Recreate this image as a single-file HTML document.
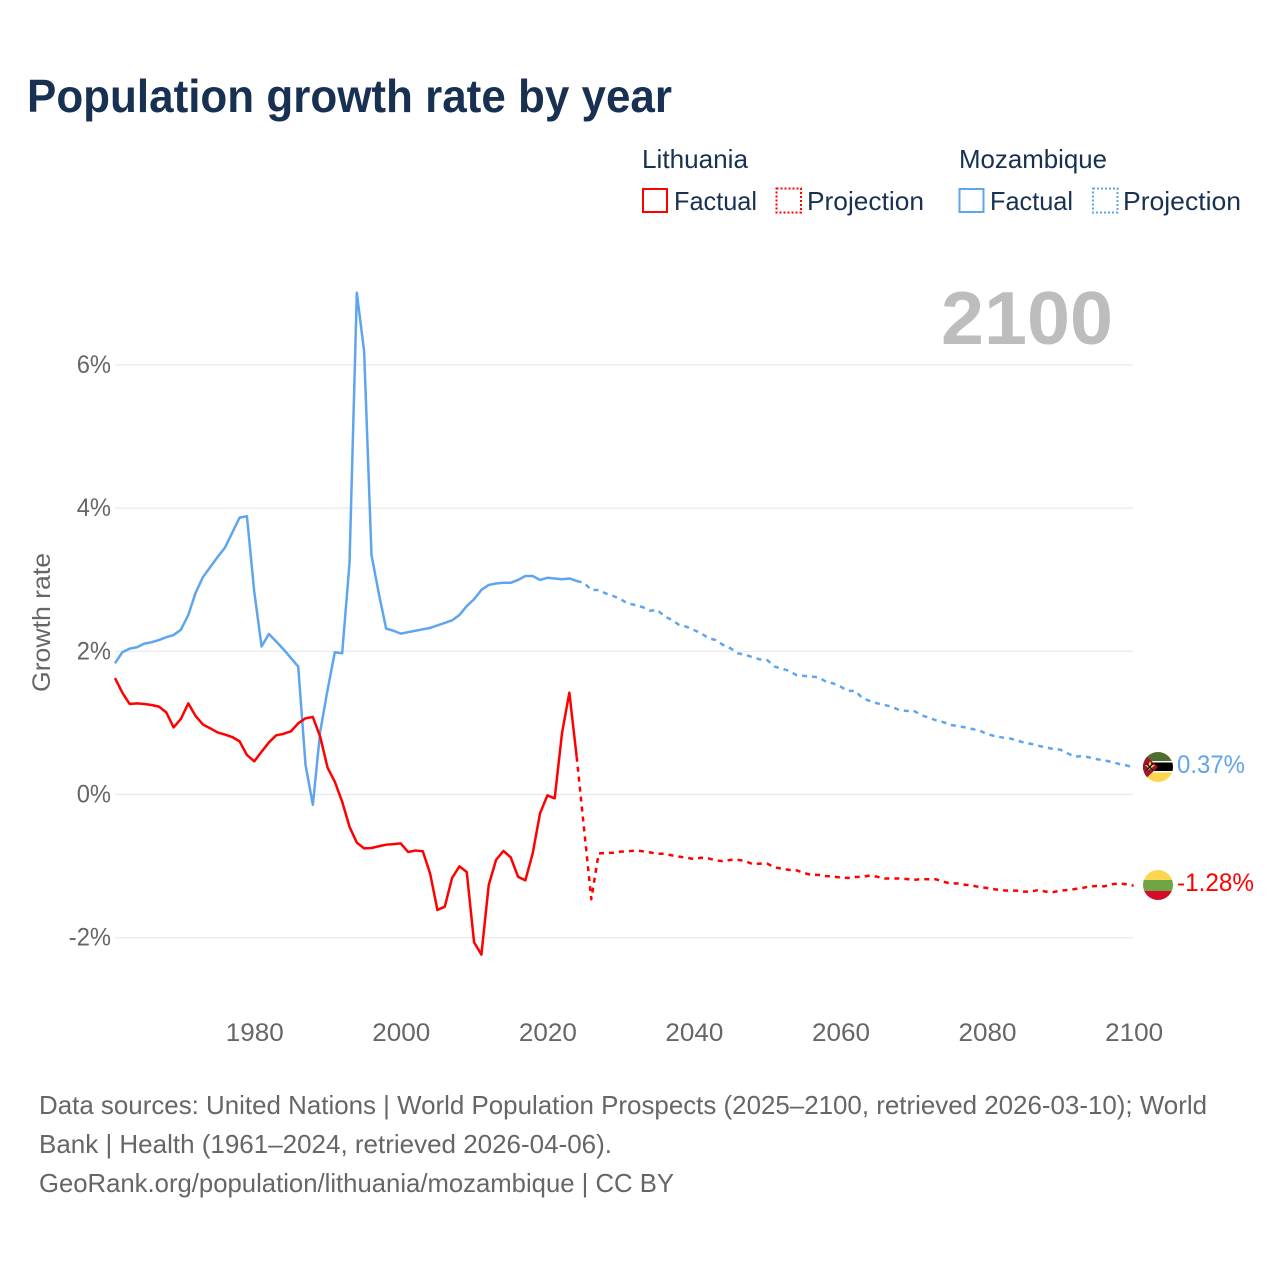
<!DOCTYPE html>
<html lang="en">
<head>
<meta charset="utf-8">
<title>Population growth rate by year</title>
<style>
html,body{margin:0;padding:0;background:#fff;}
svg{display:block;font-family:"Liberation Sans",sans-serif;}
</style>
</head>
<body>
<svg id="chart" width="1280" height="1280" viewBox="0 0 1280 1280" xmlns="http://www.w3.org/2000/svg">
  <defs>
    <clipPath id="flag-clip-moz"><circle cx="1158" cy="767" r="15"/></clipPath>
    <clipPath id="flag-clip-ltu"><circle cx="1158" cy="885" r="15"/></clipPath>
  </defs>
  <rect x="0" y="0" width="1280" height="1280" fill="#ffffff"/>
  <text x="27" y="112" font-size="46" font-weight="700" fill="#183153" textLength="645" lengthAdjust="spacingAndGlyphs">Population growth rate by year</text>

  <g font-size="26" fill="#183153">
    <text x="642" y="168" textLength="106" lengthAdjust="spacingAndGlyphs">Lithuania</text>
    <text x="959" y="168" textLength="148" lengthAdjust="spacingAndGlyphs">Mozambique</text>
    <rect x="643" y="189" width="24" height="23" fill="none" stroke="#ff0000" stroke-width="2"/>
    <text x="674" y="210" textLength="83" lengthAdjust="spacingAndGlyphs">Factual</text>
    <rect x="776.5" y="188.5" width="24.5" height="24" fill="none" stroke="#ff0000" stroke-width="2" stroke-dasharray="2 2"/>
    <text x="807" y="210" textLength="117" lengthAdjust="spacingAndGlyphs">Projection</text>
    <rect x="959.5" y="189" width="24" height="23" fill="none" stroke="#5fa5ee" stroke-width="2"/>
    <text x="990" y="210" textLength="83" lengthAdjust="spacingAndGlyphs">Factual</text>
    <rect x="1093" y="188.5" width="24.5" height="24" fill="none" stroke="#5fa5ee" stroke-width="2" stroke-dasharray="2 2"/>
    <text x="1123" y="210" textLength="118" lengthAdjust="spacingAndGlyphs">Projection</text>
  </g>

  <g id="grid"></g>
  <text x="941" y="344" font-size="75" font-weight="700" fill="#bdbdbd" textLength="172" lengthAdjust="spacingAndGlyphs">2100</text>
  <g id="y-ticks" font-size="25" fill="#666666" text-anchor="end"></g>
  <g id="x-ticks" font-size="25" fill="#666666" text-anchor="middle"></g>
  <text transform="translate(50,692) rotate(-90)" font-size="25" fill="#666666" textLength="139" lengthAdjust="spacingAndGlyphs">Growth rate</text>
  <g id="series" fill="none" stroke-width="2.5" stroke-linejoin="round"></g>

  <g clip-path="url(#flag-clip-moz)">
    <rect x="1143" y="752" width="30" height="10" fill="#4f6f2e"/>
    <rect x="1143" y="761" width="30" height="2" fill="#ffffff"/>
    <rect x="1143" y="762.5" width="30" height="8.5" fill="#000000"/>
    <rect x="1143" y="771" width="30" height="2" fill="#ffffff"/>
    <rect x="1143" y="772.5" width="30" height="10" fill="#fdd64f"/>
    <polygon points="1142,752 1158,767 1142,782" fill="#a3132e"/>
    <polygon points="1150,761 1151.6,765 1155,765 1152,767.5 1153,771 1150,769 1147,771 1148,767.5 1145,765 1148.4,765" fill="#fdd64f"/>
    <path d="M1146.5,763.5 L1153,770.5 M1153,763.5 L1146.5,770.5" stroke="#111111" stroke-width="1.3" fill="none"/>
  </g>
  <g clip-path="url(#flag-clip-ltu)">
    <rect x="1143" y="870" width="30" height="10" fill="#fdd64f"/>
    <rect x="1143" y="880" width="30" height="11" fill="#6fa544"/>
    <rect x="1143" y="891" width="30" height="10" fill="#d40b2a"/>
  </g>
  <text x="1177" y="773" font-size="25" fill="#5fa5ee" textLength="68" lengthAdjust="spacingAndGlyphs">0.37%</text>
  <text x="1177" y="891" font-size="25" fill="#ff0000" textLength="77" lengthAdjust="spacingAndGlyphs">-1.28%</text>

  <g font-size="26" fill="#666666">
    <text x="39" y="1114" textLength="1168" lengthAdjust="spacingAndGlyphs">Data sources: United Nations | World Population Prospects (2025–2100, retrieved 2026-03-10); World</text>
    <text x="39" y="1153" textLength="573" lengthAdjust="spacingAndGlyphs">Bank | Health (1961–2024, retrieved 2026-04-06).</text>
    <text x="39" y="1192" textLength="635" lengthAdjust="spacingAndGlyphs">GeoRank.org/population/lithuania/mozambique | CC BY</text>
  </g>
</svg>
<script>
const yTickValues = [6, 4, 2, 0, -2];
const yTickLabels = ["6%", "4%", "2%", "0%", "-2%"];
const xTickValues = [1980, 2000, 2020, 2040, 2060, 2080, 2100];
const xTickLabels = ["1980", "2000", "2020", "2040", "2060", "2080", "2100"];
const factualStartYear = 1961;
const projectionStartYear = 2024;
const lithuaniaFactual = [
  1.62, 1.415, 1.257, 1.266, 1.257, 1.243, 1.22, 1.14, 0.93, 1.05,
  1.266, 1.09, 0.97, 0.917, 0.86, 0.83, 0.796, 0.735, 0.545, 0.456,
  0.59, 0.72, 0.82, 0.84, 0.875, 0.987, 1.057, 1.075, 0.80, 0.37,
  0.17, -0.107, -0.457, -0.68, -0.76, -0.754, -0.73, -0.708, -0.70, -0.69,
  -0.81, -0.79, -0.80, -1.11, -1.62, -1.574, -1.173, -1.01, -1.09, -2.07,
  -2.244, -1.271, -0.92, -0.796, -0.885, -1.155, -1.206, -0.83, -0.27, -0.02,
  -0.06, 0.85, 1.415, 0.52
];
const lithuaniaProjection = [
  0.52, -0.48, -1.47, -0.83, -0.825, -0.82, -0.805, -0.80, -0.79, -0.80,
  -0.815, -0.835, -0.835, -0.857, -0.875, -0.89, -0.908, -0.89, -0.90, -0.926,
  -0.94, -0.92, -0.92, -0.935, -0.98, -0.973, -0.973, -1.024, -1.043, -1.06,
  -1.066, -1.103, -1.13, -1.13, -1.145, -1.155, -1.165, -1.173, -1.16, -1.155,
  -1.14, -1.155, -1.18, -1.18, -1.18, -1.187, -1.20, -1.187, -1.19, -1.19,
  -1.225, -1.248, -1.25, -1.267, -1.28, -1.30, -1.313, -1.33, -1.345, -1.35,
  -1.35, -1.364, -1.364, -1.34, -1.364, -1.37, -1.35, -1.34, -1.327, -1.313,
  -1.29, -1.285, -1.29, -1.26, -1.25, -1.26, -1.28
];
const mozambiqueFactual = [
  1.825, 1.98, 2.03, 2.05, 2.10, 2.12, 2.15, 2.19, 2.22, 2.295,
  2.50, 2.81, 3.03, 3.17, 3.31, 3.44, 3.65, 3.86, 3.88, 2.83,
  2.06, 2.235, 2.13, 2.02, 1.90, 1.78, 0.405, -0.15, 0.87, 1.45,
  1.98, 1.965, 3.22, 7.0, 6.18, 3.34, 2.80, 2.31, 2.28, 2.24,
  2.26, 2.28, 2.30, 2.32, 2.355, 2.39, 2.425, 2.50, 2.625, 2.72,
  2.85, 2.92, 2.94, 2.95, 2.95, 2.99, 3.045, 3.045, 2.99, 3.02,
  3.01, 3.0, 3.01, 2.975
];
const mozambiqueProjection = [
  2.975, 2.95, 2.85, 2.85, 2.80, 2.765, 2.72, 2.66, 2.64, 2.61,
  2.56, 2.57, 2.48, 2.43, 2.36, 2.335, 2.29, 2.245, 2.175, 2.15,
  2.08, 2.035, 1.965, 1.945, 1.91, 1.88, 1.87, 1.78, 1.75, 1.72,
  1.66, 1.65, 1.64, 1.63, 1.57, 1.545, 1.50, 1.44, 1.44, 1.34,
  1.30, 1.267, 1.243, 1.22, 1.173, 1.16, 1.163, 1.10, 1.07, 1.03,
  1.005, 0.964, 0.95, 0.93, 0.908, 0.885, 0.838, 0.81, 0.79, 0.78,
  0.75, 0.72, 0.70, 0.675, 0.65, 0.63, 0.62, 0.567, 0.52, 0.53,
  0.51, 0.485, 0.47, 0.447, 0.42, 0.40, 0.37
];

const SVG_NS = "http://www.w3.org/2000/svg";
function xScale(year) { return 115 + (year - 1961) * (1133.6 - 115) / (2100 - 1961); }
function yScale(value) { return 794 - value * 71.6; }
function linePath(startYear, values) {
  return values.map(function (v, i) {
    return (i ? "L" : "M") + xScale(startYear + i).toFixed(2) + "," + yScale(v).toFixed(2);
  }).join(" ");
}

const gridGroup = document.getElementById("grid");
const yTickGroup = document.getElementById("y-ticks");
yTickValues.forEach(function (v, i) {
  const line = document.createElementNS(SVG_NS, "line");
  
  
  line.setAttribute("x1", 115);
  line.setAttribute("x2", 1133);
  line.setAttribute("y1", yScale(v) + 0.5);
  line.setAttribute("y2", yScale(v) + 0.5);
  line.setAttribute("stroke", "#e8e8e8");
  line.setAttribute("stroke-width", "1.2");
  gridGroup.appendChild(line);
  const label = document.createElementNS(SVG_NS, "text");
  
  
  label.setAttribute("x", 111);
  label.setAttribute("y", yScale(v) + 8.5);
  label.textContent = yTickLabels[i];
  yTickGroup.appendChild(label);
  label.setAttribute("textLength", (label.getComputedTextLength() * 0.95).toFixed(1));
  label.setAttribute("lengthAdjust", "spacingAndGlyphs");
});

const xTickGroup = document.getElementById("x-ticks");
xTickValues.forEach(function (v, i) {
  const label = document.createElementNS(SVG_NS, "text");
  
  
  label.setAttribute("x", xScale(v) + 0.5);
  label.setAttribute("y", 1041);
  label.textContent = xTickLabels[i];
  label.setAttribute("textLength", 14.5 * xTickLabels[i].length);
  label.setAttribute("lengthAdjust", "spacingAndGlyphs");
  xTickGroup.appendChild(label);
});

const seriesGroup = document.getElementById("series");
function addLine(name, startYear, values, color, dashed) {
  const path = document.createElementNS(SVG_NS, "path");
  
  
  path.setAttribute("d", linePath(startYear, values));
  path.setAttribute("stroke", color);
  if (dashed) path.setAttribute("stroke-dasharray", "5 5");
  seriesGroup.appendChild(path);
}
addLine("line-mozambique-factual", factualStartYear, mozambiqueFactual, "#5fa5ee", false);
addLine("line-mozambique-projection", projectionStartYear, mozambiqueProjection, "#5fa5ee", true);
addLine("line-lithuania-factual", factualStartYear, lithuaniaFactual, "#ff0000", false);
addLine("line-lithuania-projection", projectionStartYear, lithuaniaProjection, "#ff0000", true);
</script>
</body>
</html>
